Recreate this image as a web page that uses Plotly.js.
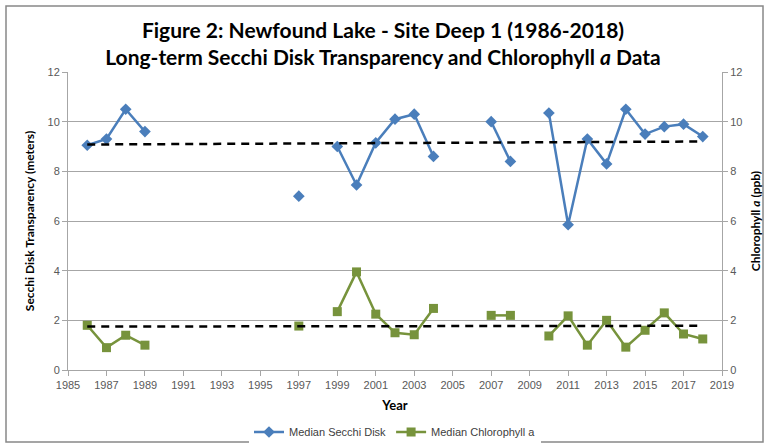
<!DOCTYPE html>
<html><head><meta charset="utf-8">
<script src="https://cdn.plot.ly/plotly-3.0.1.min.js"></script>
<style>body{margin:0;background:#fff}#c{width:766px;height:446px}</style>
</head><body><div id="c"></div>
<script>
const years = [1986,1987,1988,1989,1990,1991,1992,1993,1994,1995,1996,1997,1998,1999,2000,2001,2002,2003,2004,2005,2006,2007,2008,2009,2010,2011,2012,2013,2014,2015,2016,2017,2018];
const secchi = [9.05,9.3,10.5,9.6,null,null,null,null,null,null,null,7.0,null,9.0,7.45,9.15,10.1,10.3,8.6,null,null,10.0,8.4,null,10.35,5.85,9.3,8.3,10.5,9.5,9.8,9.9,9.4];
const chl = [1.8,0.9,1.4,1.0,null,null,null,null,null,null,null,1.77,null,2.35,3.95,2.25,1.5,1.42,2.48,null,null,2.2,2.2,null,1.37,2.18,1.0,2.0,0.92,1.6,2.3,1.45,1.25];
const trendYears = [1986, 2018];
const secchiTrend = [9.08, 9.2];
const chlTrend = [1.75, 1.78];

const blue = '#4a7ebb', green = '#77933c';
const data = [
  {x: years, y: secchi, name: 'Median Secchi Disk', mode: 'lines+markers', connectgaps: false,
   line: {color: blue, width: 2.5}, marker: {symbol: 'diamond', size: 9, color: blue}},
  {x: years, y: chl, name: 'Median Chlorophyll a', mode: 'lines+markers', connectgaps: false, yaxis: 'y2',
   line: {color: green, width: 2.5}, marker: {symbol: 'square', size: 9, color: green}},
  {x: trendYears, y: secchiTrend, mode: 'lines', showlegend: false, hoverinfo: 'skip',
   line: {color: '#000', width: 2.5, dash: '8px,6px'}},
  {x: trendYears, y: chlTrend, mode: 'lines', showlegend: false, hoverinfo: 'skip', yaxis: 'y2',
   line: {color: '#000', width: 2.5, dash: '8px,6px'}}
];
const tickFont = {family: 'Liberation Sans Narrow, Arial Narrow, sans-serif', size: 11, color: '#595959'};
const layout = {
  width: 766, height: 446,
  margin: {l: 68, r: 44, t: 72, b: 76},
  paper_bgcolor: '#fff', plot_bgcolor: '#fff',
  font: {family: 'Lato, sans-serif', color: '#000'},
  title: {text: '<b>Figure 2: Newfound Lake - Site Deep 1 (1986-2018)</b><br><b>Long-term Secchi Disk Transparency and Chlorophyll <i>a</i> Data</b>',
          font: {family: 'Lato, sans-serif', size: 21, color: '#000'}, x: 0.5, xanchor: 'center',
          yref: 'container', y: 0.915, yanchor: 'middle'},
  xaxis: {range: [1985, 2019], tick0: 1985, dtick: 2, showgrid: false, zeroline: false,
          showline: true, linecolor: '#a6a6a6', linewidth: 1, ticks: 'outside', ticklen: 5, tickcolor: '#a6a6a6',
          tickfont: tickFont,
          title: {text: '<b>Year</b>', font: {family: 'Lato, sans-serif', size: 13}, standoff: 10}},
  yaxis: {range: [0, 12], dtick: 2, showgrid: true, gridcolor: '#a6a6a6', gridwidth: 1, zeroline: false,
          showline: true, linecolor: '#a6a6a6', ticks: 'outside', ticklen: 5, tickcolor: '#a6a6a6',
          tickfont: tickFont,
          title: {text: '<b>Secchi Disk Transparency (meters)</b>', font: {family: 'Lato, sans-serif', size: 12}, standoff: 10}},
  yaxis2: {range: [0, 12], dtick: 2, overlaying: 'y', side: 'right', showgrid: false, zeroline: false,
          showline: true, linecolor: '#a6a6a6', ticks: 'outside', ticklen: 5, tickcolor: '#a6a6a6',
          tickfont: tickFont,
          title: {text: '<b>Chlorophyll <i>a</i> (ppb)</b>', font: {family: 'Lato, sans-serif', size: 12}, standoff: 10}},
  legend: {orientation: 'h', x: 0.5, xanchor: 'center', yref: 'container', y: 0.0314, yanchor: 'middle',
           font: {family: 'Liberation Sans Narrow, Arial Narrow, sans-serif', size: 11, color: '#404040'}},
  shapes: [{type: 'rect', xref: 'paper', yref: 'paper', x0: -0.0948, x1: 1.0627, y0: -0.2416, y1: 1.2215,
            line: {color: '#888', width: 1.5}, fillcolor: 'rgba(0,0,0,0)'}]
};
Plotly.newPlot('c', data, layout, {displayModeBar: false});
</script>
</body></html>
